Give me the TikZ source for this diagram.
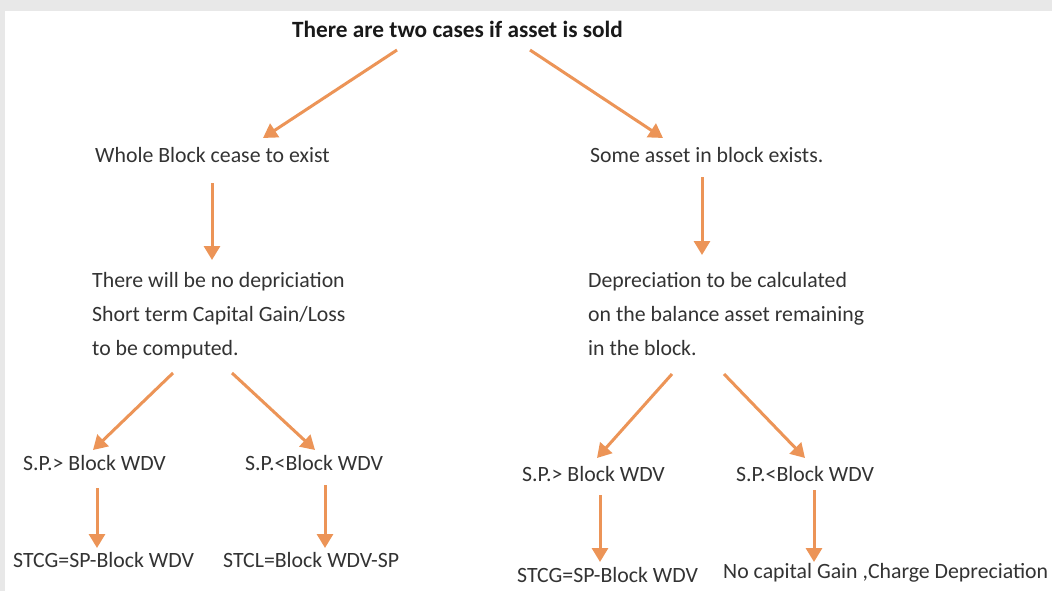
\documentclass[tikz,border=0pt]{standalone}
\usepackage{fontspec}
\setmainfont{Carlito}
\usetikzlibrary{arrows.meta,calc}
\definecolor{arrorange}{HTML}{EC9457}
\definecolor{txtgray}{HTML}{333333}
\definecolor{bandgray}{HTML}{E8E8E8}
\tikzset{
  lbl/.style={inner sep=0pt, text=txtgray, font=\fontsize{21.8}{34}\selectfont, anchor=base west},
  blk/.style={inner sep=0pt, text=txtgray, font=\fontsize{21.8}{34}\selectfont, anchor=north west, align=left},
  ttl/.style={inner sep=0pt, text=black!90, font=\fontsize{23.3}{26}\selectfont\bfseries, anchor=base west},
  arr/.style={draw=arrorange, line width=3pt, -{Triangle[width=16pt,length=14pt]}, arrorange}
}
\begin{document}
\begin{tikzpicture}[x=1pt,y=-1pt]
\useasboundingbox (0,0) rectangle (1052,591);
\fill[white] (0,0) rectangle (1052,591);
\fill[bandgray] (0,0) rectangle (1052,11);
\fill[bandgray] (0,0) rectangle (5,591);

\node[ttl] (title) at (292,38) {There are two cases if asset is sold};
\node[lbl] (whole) at (95,163) {Whole Block cease to exist};
\node[lbl] (some) at (590,163) {Some asset in block exists.};
\node[blk] (lblock) at (92,272.5) {There will be no depriciation\\Short term Capital Gain/Loss\\to be computed.};
\node[blk] (rblock) at (588,272.5) {Depreciation to be calculated\\on the balance asset remaining\\in the block.};
\node[lbl] (sp1) at (23,470) {S.P.> Block WDV};
\node[lbl] (sp2) at (245,470) {S.P.<Block WDV};
\node[lbl] (stcg1) at (13,567) {STCG=SP-Block WDV};
\node[lbl] (stcl) at (223,567) {STCL=Block WDV-SP};
\node[lbl] (sp3) at (522,481) {S.P.> Block WDV};
\node[lbl] (sp4) at (736,481) {S.P.<Block WDV};
\node[lbl] (stcg2) at (517,582) {STCG=SP-Block WDV};
\node[lbl] (nocap) at (723,578) {No capital Gain ,Charge Depreciation};

\draw[arr] ($(title.base west)+(105,12)$) -- ($(whole.base west)+(168,-25)$);
\draw[arr] ($(title.base west)+(238,12)$) -- ($(some.base west)+(73,-25)$);
\draw[arr] ($(whole.base west)+(117,20)$) -- ($(lblock.north west)+(120,-12.5)$);
\draw[arr] ($(some.base west)+(112,14)$) -- ($(rblock.north west)+(114,-17.5)$);
\draw[arr] ($(lblock.north west)+(81,100.5)$) -- ($(sp1.base west)+(70,-20)$);
\draw[arr] ($(lblock.north west)+(140,100.5)$) -- ($(sp2.base west)+(70,-20)$);
\draw[arr] ($(rblock.north west)+(84,101.5)$) -- ($(sp3.base west)+(75,-23)$);
\draw[arr] ($(rblock.north west)+(136,101.5)$) -- ($(sp4.base west)+(69,-23)$);
\draw[arr] ($(sp1.base west)+(74,18)$) -- ($(stcg1.base west)+(84,-19)$);
\draw[arr] ($(sp2.base west)+(80,15)$) -- ($(stcl.base west)+(102,-19)$);
\draw[arr] ($(sp3.base west)+(78,14)$) -- ($(stcg2.base west)+(83,-20)$);
\draw[arr] ($(sp4.base west)+(78,9)$) -- ($(nocap.base west)+(91,-16)$);
\end{tikzpicture}
\end{document}
